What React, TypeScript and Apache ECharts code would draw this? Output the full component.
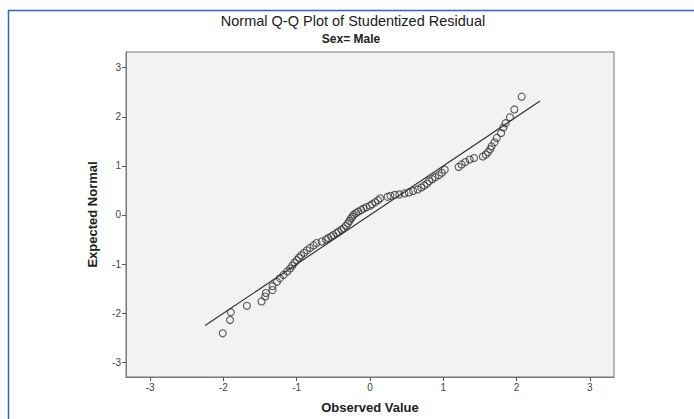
import React, { useEffect, useRef } from "react";
import * as echarts from "echarts";

const titleText = "Normal Q-Q Plot of Studentized Residual";
const subtitleText = "Sex= Male";
const xAxisName = "Observed Value";
const yAxisName = "Expected Normal";
const tickValues = [-3, -2, -1, 0, 1, 2, 3];

// Observed value (x) and expected normal (y) of each point
const observed = [
  -2.01, -1.91, -1.9, -1.68, -1.48, -1.43, -1.42, -1.33, -1.33, -1.27,
  -1.23, -1.18, -1.13, -1.09, -1.06, -1.03, -1.0, -0.97, -0.94, -0.9,
  -0.86, -0.82, -0.77, -0.73, -0.66, -0.6, -0.57, -0.53, -0.5, -0.46,
  -0.43, -0.39, -0.36, -0.33, -0.3, -0.28, -0.26, -0.24, -0.22, -0.19,
  -0.16, -0.12, -0.09, -0.05, 0.0, 0.03, 0.07, 0.11, 0.14, 0.24,
  0.28, 0.34, 0.4, 0.47, 0.53, 0.59, 0.65, 0.7, 0.74, 0.78,
  0.81, 0.85, 0.89, 0.94, 0.98, 1.02, 1.21, 1.25, 1.3, 1.36,
  1.42, 1.54, 1.58, 1.61, 1.64, 1.66, 1.7, 1.73, 1.79, 1.82,
  1.85, 1.91, 1.97, 2.07,
];
const expected = [
  -2.41, -2.14, -1.98, -1.85, -1.76, -1.66, -1.59, -1.53, -1.45, -1.36,
  -1.29, -1.22, -1.15, -1.09, -1.03, -0.97, -0.92, -0.87, -0.82, -0.77,
  -0.72, -0.67, -0.62, -0.57, -0.54, -0.5, -0.47, -0.44, -0.41, -0.37,
  -0.34, -0.3, -0.27, -0.22, -0.17, -0.12, -0.07, -0.03, 0.01, 0.04,
  0.07, 0.1, 0.13, 0.16, 0.19, 0.22, 0.26, 0.3, 0.34, 0.37,
  0.39, 0.41, 0.42, 0.44, 0.46, 0.49, 0.52, 0.56, 0.6, 0.64,
  0.69, 0.73, 0.77, 0.81, 0.86, 0.92, 0.98, 1.03, 1.08, 1.13,
  1.16, 1.19, 1.23, 1.28, 1.34, 1.4, 1.48, 1.57, 1.67, 1.78,
  1.87, 1.99, 2.15, 2.41,
];
const refLineStart = -2.25;
const refLineEnd = 2.32;

export default function App() {
  const ref = useRef<HTMLDivElement>(null);
  useEffect(() => {
    if (!ref.current) return;
    const chart = echarts.init(ref.current, undefined, { renderer: "svg" });
    const points = observed.map((x, i) => [x, expected[i]]);
    const font = "'Liberation Sans', Arial, sans-serif";
    chart.setOption({
      animation: false,
      backgroundColor: "#ffffff",
      title: [
        {
          text: titleText,
          left: 348,
          top: 8,
          textAlign: "center",
          textStyle: { fontFamily: font, fontSize: 14.5, fontWeight: "normal", color: "#1a1a1a" },
        },
        {
          text: subtitleText,
          left: 346,
          top: 28,
          textAlign: "center",
          textStyle: { fontFamily: font, fontSize: 12, fontWeight: "bold", color: "#222" },
        },
      ],
      graphic: [
        { type: "line", shape: { x1: 8, y1: 10.5, x2: 694, y2: 10.5 }, style: { stroke: "#3562c0", lineWidth: 1.5 } },
        { type: "line", shape: { x1: 8.5, y1: 10, x2: 8.5, y2: 419 }, style: { stroke: "#3562c0", lineWidth: 1.5 } },
      ],
      grid: {
        left: 126,
        top: 52,
        right: 80,
        bottom: 36,
        show: true,
        backgroundColor: "#f1f2f2",
        borderColor: "#777",
        borderWidth: 1,
      },
      xAxis: {
        type: "value",
        min: -3.33,
        max: 3.33,
        name: xAxisName,
        nameLocation: "middle",
        nameGap: 24,
        nameTextStyle: { fontFamily: font, fontSize: 13, fontWeight: "bold", color: "#222" },
        axisLine: { show: true, onZero: false, lineStyle: { color: "#777" } },
        axisTick: { show: true, length: 4, customValues: tickValues, lineStyle: { color: "#555" } },
        axisLabel: { customValues: tickValues, fontFamily: font, fontSize: 10, color: "#444", margin: 5 },
        splitLine: { show: false },
      },
      yAxis: {
        type: "value",
        min: -3.3,
        max: 3.32,
        name: yAxisName,
        nameLocation: "middle",
        nameGap: 27,
        nameTextStyle: { fontFamily: font, fontSize: 13, fontWeight: "bold", color: "#222" },
        axisLine: { show: true, onZero: false, lineStyle: { color: "#777" } },
        axisTick: { show: true, length: 4, customValues: tickValues, lineStyle: { color: "#555" } },
        axisLabel: { customValues: tickValues, fontFamily: font, fontSize: 10, color: "#444", margin: 5 },
        splitLine: { show: false },
      },
      series: [
        {
          type: "line",
          data: [
            [refLineStart, refLineStart],
            [refLineEnd, refLineEnd],
          ],
          symbol: "none",
          lineStyle: { color: "#333", width: 1.2 },
          silent: true,
          z: 3,
        },
        {
          type: "scatter",
          data: points,
          symbol: "circle",
          symbolSize: 7,
          itemStyle: { color: "rgba(0,0,0,0)", borderColor: "#333", borderWidth: 1.1 },
          z: 2,
        },
      ],
    });
    return () => chart.dispose();
  }, []);
  return (
    <div
      ref={ref}
      style={{ position: "fixed", left: 0, top: 0, width: 694, height: 419 }}
    />
  );
}
